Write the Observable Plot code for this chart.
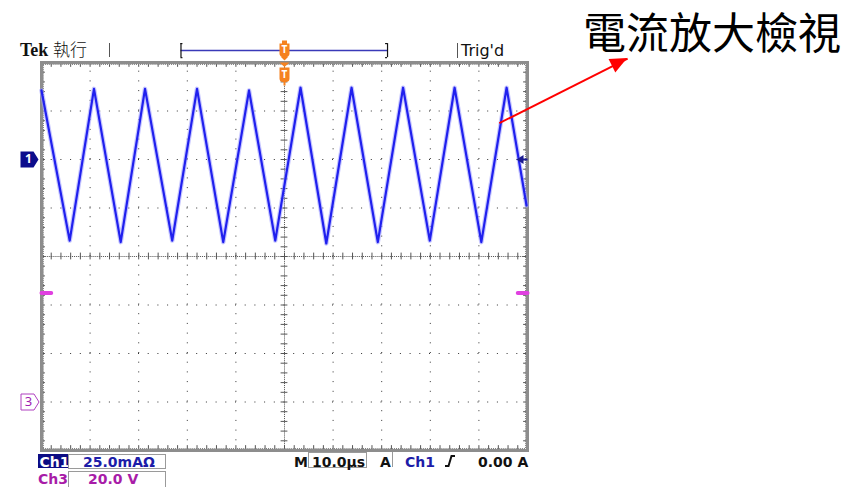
<!DOCTYPE html>
<html><head><meta charset="utf-8">
<script src="https://cdn.jsdelivr.net/npm/d3@7"></script>
<script src="https://cdn.jsdelivr.net/npm/@observablehq/plot@0.6"></script>
<style>
html,body{margin:0;padding:0;background:#fff;}
#wrap{position:relative;width:852px;height:487px;overflow:hidden;background:#fff;}
#wrap svg{display:block;overflow:visible;}
</style></head><body><div id="wrap"></div>
<script>
// ---- scope settings ----
const timePerDivUs = 10;          // M 10.0 µs
const ch1MaPerDiv = 25;           // Ch1 25.0 mA
const ch1OffsetDiv = 2;           // Ch1 ground marker, divisions above centre
const ch3VoltPerDiv = 20;         // Ch3 20.0 V
const ch3OffsetDiv = -3;          // Ch3 ground marker
// ---- Ch1 current waveform (vertices of the triangle wave) ----
const ch1Time = [-50, -44.2, -39.2, -33.7, -28.7, -23.1, -18.0, -12.6, -7.3, -1.9, 3.3, 8.6, 13.8, 19.2, 24.4, 29.9, 35.0, 40.5, 45.7, 49.8];
const ch1Current = [35.6, -41.8, 36.4, -42.6, 36.4, -41.8, 36.4, -42.6, 35.6, -41.8, 37.0, -43.3, 37.0, -42.6, 37.0, -41.8, 37.0, -42.6, 37.0, -23.7];
// ---- Ch3 visible trace pieces ----
const ch3Segment = ["left", "left", "right", "right"];
const ch3Time = [-50, -48, 48, 50];
const ch3Volt = [45, 45, 45, 45];
// ---- record window / trigger ----
const recordWindow = [-21.3, 21.2];
const triggerTime = 0;
const triggerLevelMa = 0;
// ---- annotation arrow (time µs, screen divisions) ----
const arrowTime = [44.2, 70.6];
const arrowDiv = [2.75, 4.08];
const titleText = "電流放大檢視";

const ch1Data = ch1Time.map((t, i) => ({t, mA: ch1Current[i]}));
const ch3Data = ch3Time.map((t, i) => ({t, v: ch3Volt[i], seg: ch3Segment[i]}));
const ch1Y = d => ch1OffsetDiv + d.mA / ch1MaPerDiv;
const ch3Y = d => ch3OffsetDiv + d.v / ch3VoltPerDiv;

const X0 = -5 * timePerDivUs, X1 = 5 * timePerDivUs;
const divX = d3.range(-4, 5).filter(k => k !== 0).map(k => k * timePerDivUs);
const divY = [-3, -2, -1, 1, 2, 3];
const minorX = d3.range(-25, 26).map(k => k * timePerDivUs / 5);
const minorY = d3.range(-20, 21).map(k => k / 5);

const pent = {draw(c){c.moveTo(-9,-8);c.lineTo(4,-8);c.lineTo(9,0);c.lineTo(4,8);c.lineTo(-9,8);c.closePath();}};
const trigLower = {draw(c){
  c.moveTo(-5,0);c.lineTo(5,0);c.lineTo(0,4.5);c.closePath();
  c.moveTo(-5,5);c.lineTo(5,5);c.lineTo(5,16);c.quadraticCurveTo(5,19,2,19.5);c.lineTo(1,19.5);c.lineTo(1,23);c.lineTo(-1,23);c.lineTo(-1,19.5);c.lineTo(-2,19.5);c.quadraticCurveTo(-5,19,-5,16);c.closePath();
}};
const trigUpper = {draw(c){
  c.moveTo(-2.5,-10);c.lineTo(2.5,-10);c.lineTo(2.5,-7);c.lineTo(-2.5,-7);c.closePath();
  c.moveTo(-5,-7);c.lineTo(5,-7);c.lineTo(5,3);c.quadraticCurveTo(5,6,2,6);c.lineTo(-2,6);c.quadraticCurveTo(-5,6,-5,3);c.closePath();
  c.moveTo(-4,6);c.lineTo(4,6);c.lineTo(0,10);c.closePath();
}};
const levelArrow = {draw(c){c.moveTo(-11,0);c.lineTo(-4,-4.5);c.lineTo(-4,4.5);c.closePath();c.rect(-4,-1,4,2);}};

const dots = "1 8.7";
const fine = "1 0.94";
const chart = Plot.plot({
  width: 852, height: 487,
  marginLeft: 41, marginRight: 325, marginTop: 62, marginBottom: 37,
  x: {domain: [X0, X1], axis: null},
  y: {domain: [-4, 4], axis: null},
  style: {background: "transparent", overflow: "visible"},
  marks: [
    Plot.ruleX(divX, {y1: -4, y2: 4, stroke: "#333", strokeDasharray: dots}),
    Plot.ruleY(divY, {x1: X0, x2: X1, stroke: "#333", strokeDasharray: dots}),
    Plot.ruleX([0], {y1: -4, y2: 4, stroke: "#555", strokeDasharray: fine}),
    Plot.ruleY([0], {x1: X0, x2: X1, stroke: "#555", strokeDasharray: fine}),
    Plot.ruleX(minorX, {y1: -0.07, y2: 0.07, stroke: "#555"}),
    Plot.ruleY(minorY, {x1: -0.7, x2: 0.7, stroke: "#555"}),
    Plot.ruleX(minorX, {y1: 4, y2: 3.9, stroke: "#555"}),
    Plot.ruleX(minorX, {y1: -4, y2: -3.9, stroke: "#555"}),
    Plot.ruleY(minorY, {x1: X0, x2: X0 + 0.8, stroke: "#555"}),
    Plot.ruleY(minorY, {x1: X1, x2: X1 - 0.8, stroke: "#555"}),
    Plot.ruleY([3.96, -3.96], {x1: X0, x2: X1, stroke: "#777", strokeDasharray: fine}),
    Plot.ruleX([X0 + 0.4, X1 - 0.4], {y1: -4, y2: 4, stroke: "#777", strokeDasharray: fine}),
    Plot.frame({stroke: "#8d8d8d", strokeWidth: 3}),
    // Ch3 trace
    Plot.line(ch3Data, {x: "t", y: ch3Y, z: "seg", stroke: "#e040e0", strokeWidth: 4}),
    // Ch1 trace
    Plot.line(ch1Data, {x: "t", y: ch1Y, stroke: "#a0a0ff", strokeWidth: 4.5, strokeOpacity: 0.6}),
    Plot.line(ch1Data, {x: "t", y: ch1Y, stroke: "#2020ee", strokeWidth: 2.2}),
    // channel ground markers
    Plot.dot([ch1OffsetDiv], {x: X0, y: d => d, dx: -12, symbol: pent, fill: "#0c0c8c", stroke: "none"}),
    Plot.text(["1"], {x: X0, y: ch1OffsetDiv, dx: -13, fill: "white", fontSize: 12, fontWeight: "bold"}),
    Plot.dot([ch3OffsetDiv], {x: X0, y: d => d, dx: -11.5, symbol: pent, fill: "white", stroke: "#b040c0", strokeWidth: 1}),
    Plot.text(["3"], {x: X0, y: ch3OffsetDiv, dx: -13, fill: "#a020b0", fontSize: 13}),
    // trigger level marker
    Plot.dot([triggerLevelMa], {x: X1, y: d => ch1OffsetDiv + d / ch1MaPerDiv, symbol: levelArrow, fill: "#1a1a90", stroke: "none"}),
    // record window bar
    Plot.ruleY([4.25], {x1: recordWindow[0], x2: recordWindow[1], stroke: "#3a3ab8", strokeWidth: 1.5}),
    Plot.ruleX(recordWindow, {y1: 4.1, y2: 4.39, stroke: "#111", strokeWidth: 1.2}),
    Plot.ruleY([4.1, 4.39], {x1: recordWindow[0], x2: recordWindow[0] + 0.4, stroke: "#111", strokeWidth: 1.2}),
    Plot.ruleY([4.1, 4.39], {x1: recordWindow[1], x2: recordWindow[1] - 0.4, stroke: "#111", strokeWidth: 1.2}),
    // trigger position markers
    Plot.dot([triggerTime], {x: d => d, y: 4.25, symbol: trigUpper, fill: "#f58220", stroke: "none"}),
    Plot.text(["T"], {x: triggerTime, y: 4.25, dy: -0.5, fill: "white", fontSize: 10, fontWeight: "bold"}),
    Plot.dot([triggerTime], {x: d => d, y: 4, symbol: trigLower, fill: "#f58220", stroke: "none"}),
    Plot.text(["T"], {x: triggerTime, y: 4, dy: 12, fill: "white", fontSize: 10, fontWeight: "bold"}),
    // annotation arrow shaft
    Plot.link([0], {x1: arrowTime[0], y1: arrowDiv[0], x2: arrowTime[1], y2: arrowDiv[1], stroke: "#ff0000", strokeWidth: 2})
  ]
});

const svg = d3.select(chart);
// arrow head through the scales
const sx = chart.scale("x"), sy = chart.scale("y");
const ax = sx.apply(arrowTime[0]), ay = sy.apply(arrowDiv[0]);
const bx = sx.apply(arrowTime[1]), by = sy.apply(arrowDiv[1]);
const ang = Math.atan2(by - ay, bx - ax), L = 17, W = 7.5;
const baseX = bx - L * Math.cos(ang), baseY = by - L * Math.sin(ang);
svg.append("polygon").attr("fill", "#ff0000").attr("points", [
  [bx, by],
  [baseX + W * Math.sin(ang), baseY - W * Math.cos(ang)],
  [baseX - W * Math.sin(ang), baseY + W * Math.cos(ang)]
].map(p => p.join(",")).join(" "));

// header / footer readouts
const txt = (x, y, s, o = {}) => svg.append("text").attr("x", x).attr("y", y).text(s)
  .attr("text-anchor", "start")
  .attr("font-family", o.ff || "DejaVu Sans").attr("font-size", o.fs || 14)
  .attr("font-weight", o.fw || "bold").attr("fill", o.fill || "#111");
const ln = (x1, y1, x2, y2, c = "#555", w = 1) => svg.append("line").attr("x1", x1).attr("y1", y1).attr("x2", x2).attr("y2", y2).attr("stroke", c).attr("stroke-width", w);
const box = (x, y, w, h) => svg.append("rect").attr("x", x).attr("y", y).attr("width", w).attr("height", h).attr("fill", "none").attr("stroke", "#9a9a9a");

txt(20, 56, "Tek", {ff: "Liberation Serif", fs: 18});
txt(53, 55.5, "執行", {ff: "Noto Sans CJK TC", fs: 17, fw: 300});
ln(109.5, 43, 109.5, 57);
ln(457.5, 43, 457.5, 58);
txt(461, 55.5, "Trig'd", {fs: 16, fw: "normal"});

svg.append("rect").attr("x", 38).attr("y", 454).attr("width", 30).attr("height", 14).attr("fill", "#0c0c84");
txt(39.5, 466.5, "Ch1", {fill: "#ffffff"});
box(68.5, 454.5, 97, 14);
txt(83, 466.5, "25.0mAΩ", {fill: "#1c1ca8"});
txt(38, 484, "Ch3", {fill: "#a81ca8"});
box(68.5, 471.5, 97, 17);
txt(88, 484, "20.0 V", {fill: "#a81ca8"});
txt(294, 466.5, "M");
box(308.5, 452.5, 58, 15);
txt(312, 466.5, "10.0µs");
txt(380, 466.5, "A");
ln(392.5, 452, 392.5, 467, "#999");
txt(405, 466.5, "Ch1", {fill: "#1c1ca8"});
svg.append("path").attr("d", "M445,466 L448.5,466 L451.5,456 L455,456").attr("fill", "none").attr("stroke", "#111").attr("stroke-width", 2);
txt(478, 466.5, "0.00 A");

txt(583, 49, titleText, {ff: "Noto Sans CJK TC", fs: 43, fw: "normal", fill: "#000"});

document.getElementById("wrap").appendChild(chart);
</script></body></html>
